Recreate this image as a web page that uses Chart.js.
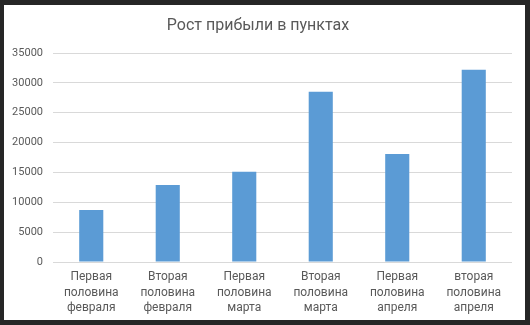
<!DOCTYPE html>
<html>
<head>
<meta charset="utf-8">
<script src="https://cdn.jsdelivr.net/npm/chart.js@4.4.1/dist/chart.umd.min.js"></script>
<style>
  html, body { margin: 0; padding: 0; background: #262626; }
  body { width: 530px; height: 325px; position: relative; overflow: hidden; }
  #frame { position: absolute; left: 4px; top: 5px; width: 521px; height: 315px; background: #ffffff; }
  #frame canvas { display: block; }
</style>
</head>
<body>
<div id="frame"><canvas id="chart" width="521" height="315"></canvas></div>
<script>
// Profit growth by half-month periods
const chartTitle = 'Рост прибыли в пунктах';
const categories = [
  ['Первая', 'половина', 'февраля'],
  ['Вторая', 'половина', 'февраля'],
  ['Первая', 'половина', 'марта'],
  ['Вторая', 'половина', 'марта'],
  ['Первая', 'половина', 'апреля'],
  ['вторая', 'половина', 'апреля']
];
const profitPoints = [8700, 12900, 15100, 28500, 18100, 32200];
const yMin = 0;
const yMax = 35000;
const yStep = 5000;

const textColor = '#595959';
const gridColor = '#d9d9d9';
const fontFamily = 'Roboto, "Open Sans", sans-serif';

new Chart(document.getElementById('chart'), {
  type: 'bar',
  data: {
    labels: categories,
    datasets: [{
      data: profitPoints,
      backgroundColor: '#5b9bd5',
      borderWidth: 0,
      categoryPercentage: 1,
      barPercentage: 0.315
    }]
  },
  options: {
    responsive: false,
    animation: false,
    layout: { padding: { top: 0, right: 13, bottom: 0, left: 0 } },
    plugins: {
      legend: { display: false },
      tooltip: { enabled: false },
      title: {
        display: true,
        text: chartTitle,
        color: textColor,
        font: { family: fontFamily, size: 16, weight: 'normal', lineHeight: 1.2 },
        padding: { top: 11.4, bottom: 17.4 }
      }
    },
    scales: {
      x: {
        grid: { display: false, drawTicks: false },
        border: { display: false },
        ticks: {
          color: textColor,
          font: { family: fontFamily, size: 12, lineHeight: 1.28 },
          padding: 7.5,
          maxRotation: 0,
          autoSkip: false
        },
        afterFit(scale) { scale.height = 58; }
      },
      y: {
        min: yMin,
        max: yMax,
        grid: { color: gridColor, lineWidth: 1, drawTicks: false },
        border: { display: false },
        ticks: {
          stepSize: yStep,
          color: textColor,
          font: { family: fontFamily, size: 11 },
          padding: 10,
          callback: (value) => String(value)
        },
        afterFit(scale) { scale.width = 49; }
      }
    }
  }
});
</script>
</body>
</html>
